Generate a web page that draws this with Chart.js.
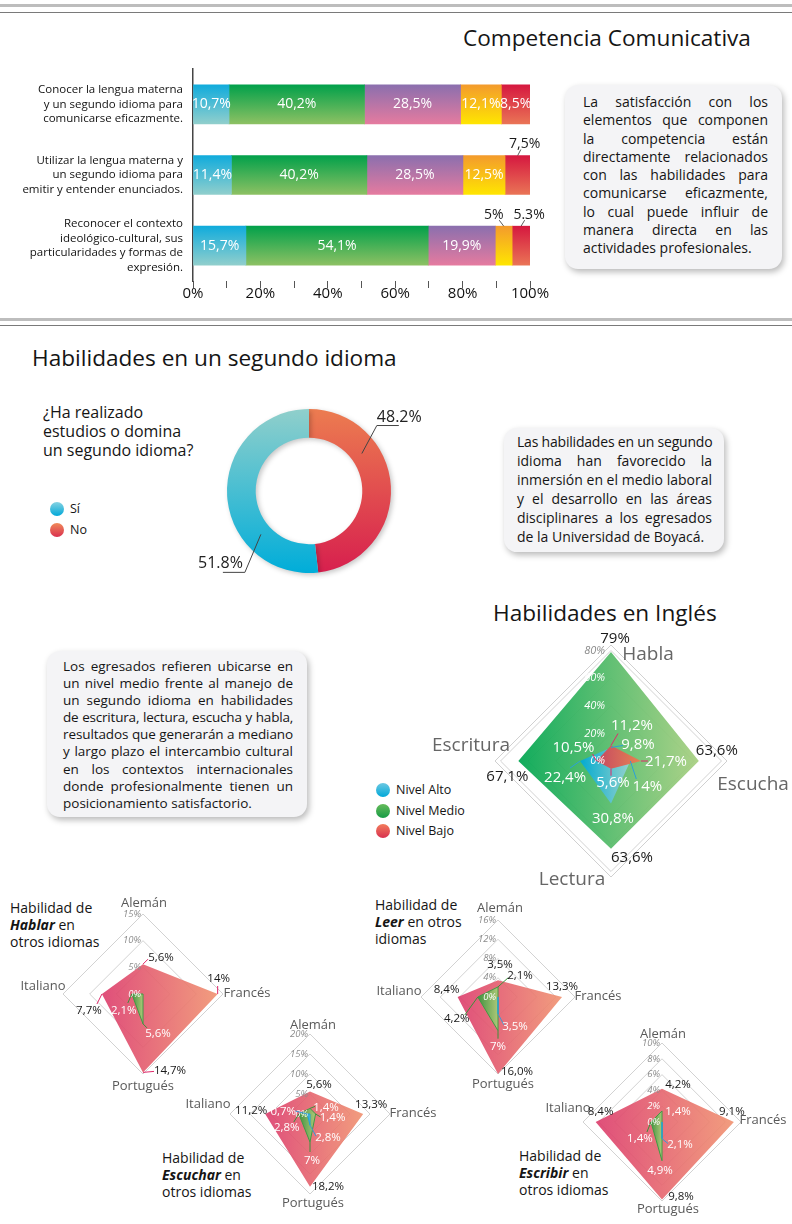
<!DOCTYPE html>
<html lang="es">
<head>
<meta charset="utf-8">
<title>Competencia Comunicativa</title>
<script src="https://cdn.jsdelivr.net/npm/chart.js@4.4.1/dist/chart.umd.min.js"></script>
<style>
  body { margin:0; width:792px; height:1224px; position:relative; overflow:hidden; background:#fff;
         font-family:"Open Sans", sans-serif; color:#151515; }
  .abs { position:absolute; white-space:nowrap; }
  .titulo { font-size:22.6px; line-height:30px; }
  .regla-clara { position:absolute; left:0; width:792px; height:3px; background:#bdbdbd; }
  .regla-oscura { position:absolute; left:0; width:792px; height:1px; background:#7a7a7a; }
  .caja { position:absolute; background:#f4f4f6; border-radius:13px; box-shadow:2px 3px 6px rgba(0,0,0,.28);
          box-sizing:border-box; }
  .caja span { display:block; white-space:nowrap; text-align:justify; text-align-last:justify; }
  .caja span:last-child { text-align-last:left; }
  .lienzo { position:absolute; }
  .punto { position:absolute; width:14px; height:14px; border-radius:50%; }
  .leyenda { position:absolute; font-size:12.5px; line-height:16px; white-space:nowrap; }
  .subtitulo { position:absolute; font-size:14px; line-height:17px; white-space:nowrap; }
</style>
</head>
<body>

<div class="regla-clara" style="top:4px"></div>
<div class="regla-oscura" style="top:12px"></div>
<div class="abs titulo" style="left:463px;top:23px">Competencia Comunicativa</div>

<div class="caja" style="left:565px;top:85px;width:217px;height:184px;padding:8px 14px 0 18px;font-size:14px;line-height:18.25px">
  <span>La satisfacción con los</span>
  <span>elementos que componen</span>
  <span>la competencia están</span>
  <span>directamente relacionados</span>
  <span>con las habilidades para</span>
  <span>comunicarse eficazmente,</span>
  <span>lo cual puede influir de</span>
  <span>manera directa en las</span>
  <span>actividades profesionales.</span>
</div>

<div class="regla-clara" style="top:318px"></div>
<div class="regla-oscura" style="top:325px"></div>
<div class="abs titulo" style="left:32px;top:343px">Habilidades en un segundo idioma</div>
<div class="abs" style="left:43px;top:403px;font-size:16px;line-height:19px">¿Ha realizado<br>estudios o domina<br>un segundo idioma?</div>

<div class="punto" style="left:50px;top:502px;background:linear-gradient(#86d2e2,#00a8d8)"></div>
<div class="leyenda" style="left:70px;top:501px">Sí</div>
<div class="punto" style="left:50px;top:523px;background:linear-gradient(#f08a5a,#d9304f)"></div>
<div class="leyenda" style="left:70px;top:522px">No</div>

<div class="caja" style="left:504px;top:428px;width:220px;height:124px;padding:4px 12px 0 13px;font-size:14px;line-height:19px">
  <span>Las habilidades en un segundo</span>
  <span>idioma han favorecido la</span>
  <span>inmersión en el medio laboral</span>
  <span>y el desarrollo en las áreas</span>
  <span>disciplinares a los egresados</span>
  <span>de la Universidad de Boyacá.</span>
</div>

<div class="caja" style="left:47px;top:651px;width:260px;height:166px;padding:7px 14px 0 16px;font-size:13.5px;line-height:17.1px">
  <span>Los egresados refieren ubicarse en</span>
  <span>un nivel medio frente al manejo de</span>
  <span>un segundo idioma en habilidades</span>
  <span>de escritura, lectura, escucha y habla,</span>
  <span>resultados que generarán a mediano</span>
  <span>y largo plazo el intercambio cultural</span>
  <span>en los contextos internacionales</span>
  <span>donde profesionalmente tienen un</span>
  <span>posicionamiento satisfactorio.</span>
</div>

<div class="abs titulo" style="left:493px;top:598px">Habilidades en Inglés</div>
<div class="punto" style="left:376px;top:783px;background:linear-gradient(#6cc8e2,#00a8d8)"></div>
<div class="leyenda" style="left:396px;top:782px">Nivel Alto</div>
<div class="punto" style="left:376px;top:804px;background:linear-gradient(#66bb5a,#169b45)"></div>
<div class="leyenda" style="left:396px;top:803px">Nivel Medio</div>
<div class="punto" style="left:376px;top:824px;background:linear-gradient(#f27c5c,#d8304f)"></div>
<div class="leyenda" style="left:396px;top:823px">Nivel Bajo</div>

<div class="subtitulo" style="left:10px;top:899px">Habilidad de<br><b><i>Hablar</i></b> en<br>otros idiomas</div>
<div class="subtitulo" style="left:375px;top:896px">Habilidad de<br><b><i>Leer</i></b> en otros<br>idiomas</div>
<div class="subtitulo" style="left:162px;top:1149px">Habilidad de<br><b><i>Escuchar</i></b> en<br>otros idiomas</div>
<div class="subtitulo" style="left:519px;top:1147px">Habilidad de<br><b><i>Escribir</i></b> en<br>otros idiomas</div>

<script>
// ---- Competencia comunicativa (barras apiladas, %) ----
const competencias = [
  ['Conocer la lengua materna', 'y un segundo idioma para', 'comunicarse eficazmente.'],
  ['Utilizar la lengua materna y', 'un segundo idioma para', 'emitir y entender enunciados.'],
  ['Reconocer el contexto', 'ideológico-cultural, sus', 'particularidades y formas de', 'expresión.']
];
const tramoAzul     = [10.7, 11.4, 15.7];
const tramoVerde    = [40.2, 40.2, 54.1];
const tramoMorado   = [28.5, 28.5, 19.9];
const tramoAmarillo = [12.1, 12.5, 5];
const tramoRojo     = [8.5, 7.5, 5.3];
const marcasEjeX    = [0, 20, 40, 60, 80, 100];

// ---- Segundo idioma (dona) ----
const opcionesIdioma    = ['No', 'Sí'];
const porcentajesIdioma = [48.2, 51.8];

// ---- Habilidades en inglés (radar) ----
const habilidadesIngles = ['Habla', 'Escucha', 'Lectura', 'Escritura'];
const inglesAlto  = [9.8, 14, 30.8, 22.4];
const inglesMedio = [79, 63.6, 63.6, 67.1];
const inglesBajo  = [11.2, 21.7, 5.6, 10.5];

// ---- Otros idiomas (radares) ----
const idiomas = ['Alemán', 'Francés', 'Portugués', 'Italiano'];
const hablarAlto    = [0, 0, 0, 0];
const hablarMedio   = [0, 0, 5.6, 2.1];
const hablarBajo    = [5.6, 14, 14.7, 7.7];
const leerAlto      = [0, 0, 3.5, 0];
const leerMedio     = [2.1, 0, 7, 4.2];
const leerBajo      = [3.5, 13.3, 16.0, 8.4];
const escucharAlto  = [0, 0, 2.8, 0.7];
const escucharMedio = [1.4, 1.4, 7, 2.8];
const escucharBajo  = [5.6, 13.3, 18.2, 11.2];
const escribirAlto  = [0, 0, 2.1, 0];
const escribirMedio = [1.4, 0, 4.9, 1.4];
const escribirBajo  = [4.2, 9.1, 9.8, 8.4];

const FUENTE = '"Open Sans"';
const BLANCO = '#ffffff', NEGRO = '#1a1a1a';

function porcentaje(v) {
  return (Number.isInteger(v) ? String(v) : v.toFixed(1)).replace('.', ',') + '%';
}

function lienzo(x, y, w, h) {
  const c = document.createElement('canvas');
  c.width = w; c.height = h;
  c.className = 'lienzo';
  c.style.left = x + 'px'; c.style.top = y + 'px';
  document.body.appendChild(c);
  return c;
}

// ================= Barras =================
const coloresBarras = [
  ['#0fabdc', '#92cfcc'],
  ['#00a04a', '#8ec163'],
  ['#8a6fae', '#e67b9f'],
  ['#f39a2d', '#ffe600'],
  ['#d5173f', '#ea7556']
];
// etiquetas que van fuera de la barra: desplazamiento del texto
const fueraDeBarra = { '4-1': [7, -31], '3-2': [-10, -31], '4-2': [8, -31] };
const rotulosEspeciales = { '4-2': '5.3%' };

function degradadoBarra(arriba, abajo) {
  return (c) => {
    const y = c.chart.scales.y;
    if (!c.chart.chartArea || !y) return abajo;
    const cy = y.getPixelForValue(c.dataIndex);
    if (!isFinite(cy)) return abajo;
    const g = c.chart.ctx.createLinearGradient(0, cy - 20, 0, cy + 20);
    g.addColorStop(0, arriba); g.addColorStop(1, abajo);
    return g;
  };
}

const etiquetasBarras = {
  id: 'etiquetasBarras',
  afterDatasetsDraw(chart) {
    const ctx = chart.ctx;
    ctx.save();
    ctx.font = '14px ' + FUENTE;
    ctx.textAlign = 'center';
    ctx.textBaseline = 'middle';
    chart.data.datasets.forEach((ds, i) => {
      chart.getDatasetMeta(i).data.forEach((bar, j) => {
        const clave = i + '-' + j;
        const txt = rotulosEspeciales[clave] || porcentaje(ds.data[j]);
        const cx = (bar.x + bar.base) / 2;
        const fuera = fueraDeBarra[clave];
        if (fuera) {
          const top = bar.y - bar.height / 2;
          ctx.strokeStyle = '#333'; ctx.lineWidth = 0.8;
          ctx.beginPath(); ctx.moveTo(cx, top); ctx.lineTo(cx + fuera[0] * 0.45, top - 6); ctx.stroke();
          ctx.fillStyle = NEGRO;
          ctx.fillText(txt, cx + fuera[0], bar.y + fuera[1]);
        } else {
          ctx.fillStyle = BLANCO;
          ctx.fillText(txt, cx, bar.y);
        }
      });
    });
    ctx.restore();
  }
};

const tramos = [tramoAzul, tramoVerde, tramoMorado, tramoAmarillo, tramoRojo];
new Chart(lienzo(0, 60, 560, 250), {
  type: 'bar',
  data: {
    labels: competencias,
    datasets: tramos.map((t, k) => ({
      data: t,
      backgroundColor: degradadoBarra(coloresBarras[k][0], coloresBarras[k][1]),
      barThickness: 39,
      borderWidth: 0
    }))
  },
  options: {
    indexAxis: 'y', responsive: false, animation: false, events: [],
    layout: { padding: { top: 9, right: 30, left: 0, bottom: 0 } },
    plugins: { legend: { display: false }, tooltip: { enabled: false } },
    scales: {
      x: {
        stacked: true, min: 0, max: 100,
        border: { display: false },
        grid: { drawOnChartArea: false, tickLength: 7, color: '#555', lineWidth: 1 },
        ticks: {
          stepSize: 10, autoSkip: false, maxRotation: 0, padding: -3, color: '#111',
          font: { family: 'Open Sans', size: 15 },
          callback: v => marcasEjeX.includes(v) ? v + '%' : ''
        },
        afterFit: s => { s.height = 29; s.paddingLeft = 0; }
      },
      y: {
        stacked: true,
        grid: { display: false, drawTicks: false },
        border: { display: true, color: '#444', width: 1.5 },
        ticks: { color: '#111', padding: 10, font: { family: 'Open Sans', size: 11.5, lineHeight: 1.27 } },
        afterFit: s => { s.width = 193; s.paddingTop = 0; s.paddingBottom = 0; }
      }
    }
  },
  plugins: [etiquetasBarras]
});

// ================= Dona =================
const coloresDona = [['#ec7c50', '#d71f4e'], ['#90cfcb', '#00add9']];
// guía de cada etiqueta: posición en el arco, codo y largo del subrayado
const guiasDona = [
  { frac: 0.315, codo: [15, -28], largo: 22 },
  { frac: 0.292, codo: [-16, 38], largo: -22 }
];

const dibujoDona = {
  id: 'dibujoDona',
  beforeDatasetsDraw(chart) {
    const ctx = chart.ctx;
    ctx.save();
    ctx.shadowColor = 'rgba(0,0,0,0.22)';
    ctx.shadowBlur = 5; ctx.shadowOffsetX = 2; ctx.shadowOffsetY = 2;
  },
  afterDatasetsDraw(chart) {
    const ctx = chart.ctx;
    ctx.restore();
    ctx.save();
    ctx.strokeStyle = '#444'; ctx.lineWidth = 1;
    ctx.fillStyle = '#222';
    ctx.font = '16px ' + FUENTE;
    ctx.textBaseline = 'alphabetic';
    chart.getDatasetMeta(0).data.forEach((arc, i) => {
      const g = guiasDona[i];
      const ang = arc.startAngle + (arc.endAngle - arc.startAngle) * g.frac;
      const rad = arc.innerRadius + (arc.outerRadius - arc.innerRadius) * 0.4;
      const x0 = arc.x + Math.cos(ang) * rad, y0 = arc.y + Math.sin(ang) * rad;
      const x1 = x0 + g.codo[0], y1 = y0 + g.codo[1];
      ctx.beginPath(); ctx.moveTo(x0, y0); ctx.lineTo(x1, y1); ctx.lineTo(x1 + g.largo, y1); ctx.stroke();
      const txt = chart.data.datasets[0].data[i].toFixed(1) + '%';
      if (g.largo > 0) { ctx.textAlign = 'left'; ctx.fillText(txt, x1, y1 - 4); }
      else { ctx.textAlign = 'right'; ctx.fillText(txt, x1 - 2, y1 - 4); }
    });
    ctx.restore();
  }
};

new Chart(lienzo(190, 395, 240, 195), {
  type: 'doughnut',
  data: {
    labels: opcionesIdioma,
    datasets: [{
      data: porcentajesIdioma,
      borderWidth: 0,
      backgroundColor: (c) => {
        const a = c.chart.chartArea;
        const par = coloresDona[c.dataIndex];
        if (!a) return par[1];
        const g = c.chart.ctx.createLinearGradient(0, a.top, 0, a.bottom);
        g.addColorStop(0, par[0]); g.addColorStop(1, par[1]);
        return g;
      }
    }]
  },
  options: {
    responsive: false, animation: false, events: [], cutout: '65%',
    layout: { padding: { left: 37, right: 39, top: 14, bottom: 17 } },
    plugins: { legend: { display: false }, tooltip: { enabled: false } }
  },
  plugins: [dibujoDona]
});

// ================= Radares =================
function degradadoRadar(izq, der) {
  return (c) => {
    const r = c.chart.scales.r;
    if (!c.chart.chartArea || !r || !isFinite(r.xCenter)) return izq;
    const d = c.chart.data.datasets[c.datasetIndex].data;
    const x0 = r.getPointPositionForValue(3, d[3]).x;
    const x1 = r.getPointPositionForValue(1, d[1]).x;
    if (x1 - x0 < 2) return izq;
    const g = c.chart.ctx.createLinearGradient(x0, 0, x1, 0);
    g.addColorStop(0, izq); g.addColorStop(1, der);
    return g;
  };
}

function rotulosRadar(conf) {
  return {
    id: 'rotulosRadar',
    beforeDatasetsDraw(chart) {
      if (!conf.bordeExtra) return;
      const ctx = chart.ctx, r = chart.scales.r;
      ctx.save();
      ctx.strokeStyle = '#d0d0d0'; ctx.lineWidth = 1;
      ctx.beginPath();
      chart.data.labels.forEach((_, i) => {
        const p = r.getPointPositionForValue(i, r.max);
        if (i) ctx.lineTo(p.x, p.y); else ctx.moveTo(p.x, p.y);
      });
      ctx.closePath(); ctx.stroke();
      ctx.restore();
    },
    afterDatasetsDraw(chart) {
      const ctx = chart.ctx, r = chart.scales.r;
      ctx.save();
      // marcas de la escala
      ctx.font = 'italic ' + conf.tamTick + 'px ' + FUENTE;
      ctx.textAlign = 'right'; ctx.textBaseline = 'middle';
      r.ticks.forEach(t => {
        const y = r.yCenter - r.getDistanceFromCenterForValue(t.value);
        ctx.fillStyle = conf.colorTick(t.value);
        ctx.fillText(t.value + '%', r.xCenter - conf.sepTick, y);
      });
      // nombres de los ejes
      ctx.font = conf.tamEje + 'px ' + FUENTE;
      ctx.fillStyle = conf.colorEje;
      ctx.textAlign = 'center';
      chart.data.labels.forEach((lab, i) => {
        const p = r.getPointPosition(i, r.drawingArea);
        ctx.fillText(lab, p.x + conf.ejes[i][0], p.y + conf.ejes[i][1]);
      });
      // valores
      ctx.font = conf.tamValor + 'px ' + FUENTE;
      conf.valores.forEach(([ds, i, dx, dy, guia, color, texto]) => {
        const p = chart.getDatasetMeta(ds).data[i];
        if (guia) {
          ctx.strokeStyle = conf.guias[ds]; ctx.lineWidth = 1;
          ctx.beginPath(); ctx.moveTo(p.x, p.y); ctx.lineTo(p.x + guia[0], p.y + guia[1]); ctx.stroke();
        }
        ctx.fillStyle = color;
        ctx.fillText(texto || porcentaje(chart.data.datasets[ds].data[i]), p.x + dx, p.y + dy);
      });
      ctx.restore();
    }
  };
}

function crearRadar(caja, etiquetas, conjuntos, escala, conf) {
  const [x, y, w, h, pad] = caja;
  return new Chart(lienzo(x, y, w, h), {
    type: 'radar',
    data: {
      labels: etiquetas,
      datasets: conjuntos.map(c => ({
        data: c.datos, order: c.orden,
        backgroundColor: degradadoRadar(c.izq, c.der),
        borderColor: c.borde || 'rgba(0,0,0,0)',
        borderWidth: c.borde ? 1 : 0,
        pointRadius: 0, fill: true
      }))
    },
    options: {
      responsive: false, animation: false, events: [],
      layout: { padding: pad },
      plugins: { legend: { display: false }, tooltip: { enabled: false } },
      scales: {
        r: {
          min: 0, max: escala.max,
          ticks: { display: false, stepSize: escala.paso, includeBounds: escala.incluirMax },
          grid: { color: '#d2d2d2', lineWidth: 1 },
          angleLines: { display: false },
          pointLabels: { display: false }
        }
      }
    },
    plugins: [rotulosRadar(conf)]
  });
}

// --- Inglés ---
crearRadar([430, 600, 362, 300, { left: 65, right: 65, top: 45, bottom: 23 }], habilidadesIngles, [
  { datos: inglesMedio, orden: 3, izq: 'rgba(0,166,81,0.93)', der: 'rgba(168,207,128,0.93)' },
  { datos: inglesAlto,  orden: 2, izq: 'rgba(0,170,212,0.96)', der: 'rgba(150,210,208,0.96)' },
  { datos: inglesBajo,  orden: 1, izq: 'rgba(203,68,92,0.96)', der: 'rgba(233,128,80,0.96)' }
], { max: 84, paso: 20, incluirMax: false }, {
  bordeExtra: true, tamTick: 11, sepTick: 6,
  colorTick: v => v >= 80 ? '#8a8a8a' : BLANCO,
  tamEje: 19, colorEje: '#666',
  ejes: [[37, 10], [26, 24], [-39, 3], [-24, -15]],
  tamValor: 15, guias: ['#2e8b3e', '#2aa0d8', '#e0286a'],
  valores: [
    [0, 0, 4, -13, null, NEGRO], [0, 1, 18, -10, null, NEGRO], [0, 2, 21, 9, null, NEGRO], [0, 3, -11, 16, null, NEGRO],
    [1, 0, 27, -3, [12, -2], BLANCO], [1, 1, 17, 26, [6, 18], BLANCO], [1, 2, 2, 15, null, BLANCO], [1, 3, -15, 17, [-10, 7], BLANCO],
    [2, 0, 21, -20, [7, -12], BLANCO], [2, 1, 25, 1, [7, 0], BLANCO], [2, 2, 2, 14, [0, 7], BLANCO], [2, 3, -23, -13, [-4, -7], BLANCO]
  ]
});

// --- otros idiomas ---
function conjuntosIdioma(alto, medio, bajo) {
  return [
    { datos: alto,  orden: 1, izq: 'rgba(20,165,215,0.95)', der: 'rgba(110,195,215,0.95)', borde: '#1ea3d6' },
    { datos: medio, orden: 2, izq: 'rgba(58,150,62,0.95)', der: 'rgba(170,205,120,0.95)', borde: '#3f9a44' },
    { datos: bajo,  orden: 3, izq: 'rgba(220,60,108,0.9)', der: 'rgba(240,146,112,0.9)' }
  ];
}
function confIdioma(ejes, valores, bajo) {
  return {
    tamTick: 9.5, sepTick: 2,
    colorTick: v => (v === 0 || v < bajo[0] * 0.6) ? BLANCO : '#8c8c8c',
    tamEje: 13, colorEje: '#595959', ejes: ejes,
    tamValor: 11.5, guias: ['#3a9ad6', '#3a8f3a', '#e0286a'],
    valores: valores
  };
}

crearRadar([20, 890, 255, 210, { left: 43, right: 52, top: 24, bottom: 26 }], idiomas,
  conjuntosIdioma(hablarAlto, hablarMedio, hablarBajo), { max: 15, paso: 5, incluirMax: true },
  confIdioma([[1, -11], [24, -1], [0, 12], [-20, -8]], [
    [2, 0, 18, -6, [5, -5], NEGRO], [2, 1, 1, -15, [0, -8], NEGRO], [2, 2, 27, -2, [11, -1], NEGRO], [2, 3, -13, 17, [-5, 10], NEGRO],
    [1, 3, -8, 17, [-4, 9], BLANCO], [1, 2, 15, 10, [4, 4], BLANCO]
  ], hablarBajo));

crearRadar([375, 895, 250, 200, { left: 46, right: 50, top: 25, bottom: 21 }], idiomas,
  conjuntosIdioma(leerAlto, leerMedio, leerBajo), { max: 16, paso: 4, incluirMax: true },
  confIdioma([[2, -12], [23, -1], [5, 10], [-22, -6]], [
    [2, 0, 2, -15, null, NEGRO], [2, 1, 0, -10, null, NEGRO], [2, 2, 19, -2, null, NEGRO, '16,0%'], [2, 3, -11, -7, null, NEGRO],
    [1, 0, 22, -11, [10, -9], NEGRO], [1, 3, -21, 22, [-13, 18], NEGRO], [1, 2, 0, 16, [0, 8], BLANCO],
    [0, 2, 17, 13, [6, 11], BLANCO]
  ], leerBajo));

crearRadar([185, 1012, 255, 203, { left: 45, right: 50, top: 22, bottom: 21 }], idiomas,
  conjuntosIdioma(escucharAlto, escucharMedio, escucharBajo), { max: 20, paso: 5, incluirMax: true },
  confIdioma([[3, -9], [23, -1], [3, 9], [-22, -10]], [
    [2, 0, 9, -7, null, NEGRO], [2, 1, 8, -9, null, NEGRO], [2, 2, 18, 0, null, NEGRO], [2, 3, -14, -3, null, NEGRO],
    [1, 0, 16, -1, [5, -2], BLANCO], [1, 1, 17, 4, [5, 3], BLANCO], [1, 2, 2, 19, [0, 10], BLANCO], [1, 3, -12, 14, [-5, 8], BLANCO],
    [0, 3, -24, -2, [-12, -3], BLANCO], [0, 2, 18, 13, [6, 11], BLANCO]
  ], escucharBajo));

crearRadar([540, 1024, 252, 198, { left: 43, right: 51, top: 19, bottom: 21 }], idiomas,
  conjuntosIdioma(escribirAlto, escribirMedio, escribirBajo), { max: 10, paso: 2, incluirMax: true },
  confIdioma([[1, -9], [22, -2], [6, 8], [-15, -14]], [
    [2, 0, 16, -4, null, NEGRO], [2, 1, -2, -10, null, NEGRO], [2, 2, 19, -3, null, NEGRO], [2, 3, 5, -10, null, NEGRO],
    [1, 0, 16, 1, null, BLANCO], [1, 3, -11, 17, [-4, 10], BLANCO], [1, 2, -2, 10, null, BLANCO],
    [0, 2, 18, 6, [6, 5], BLANCO]
  ], escribirBajo));

// encoger el espaciado de las líneas justificadas que no caben
document.querySelectorAll('.caja span').forEach(sp => {
  let ls = 0;
  while (sp.scrollWidth > sp.clientWidth + 0.5 && ls > -1.5) {
    ls -= 0.1;
    sp.style.letterSpacing = ls.toFixed(1) + 'px';
  }
});
</script>
</body>
</html>
